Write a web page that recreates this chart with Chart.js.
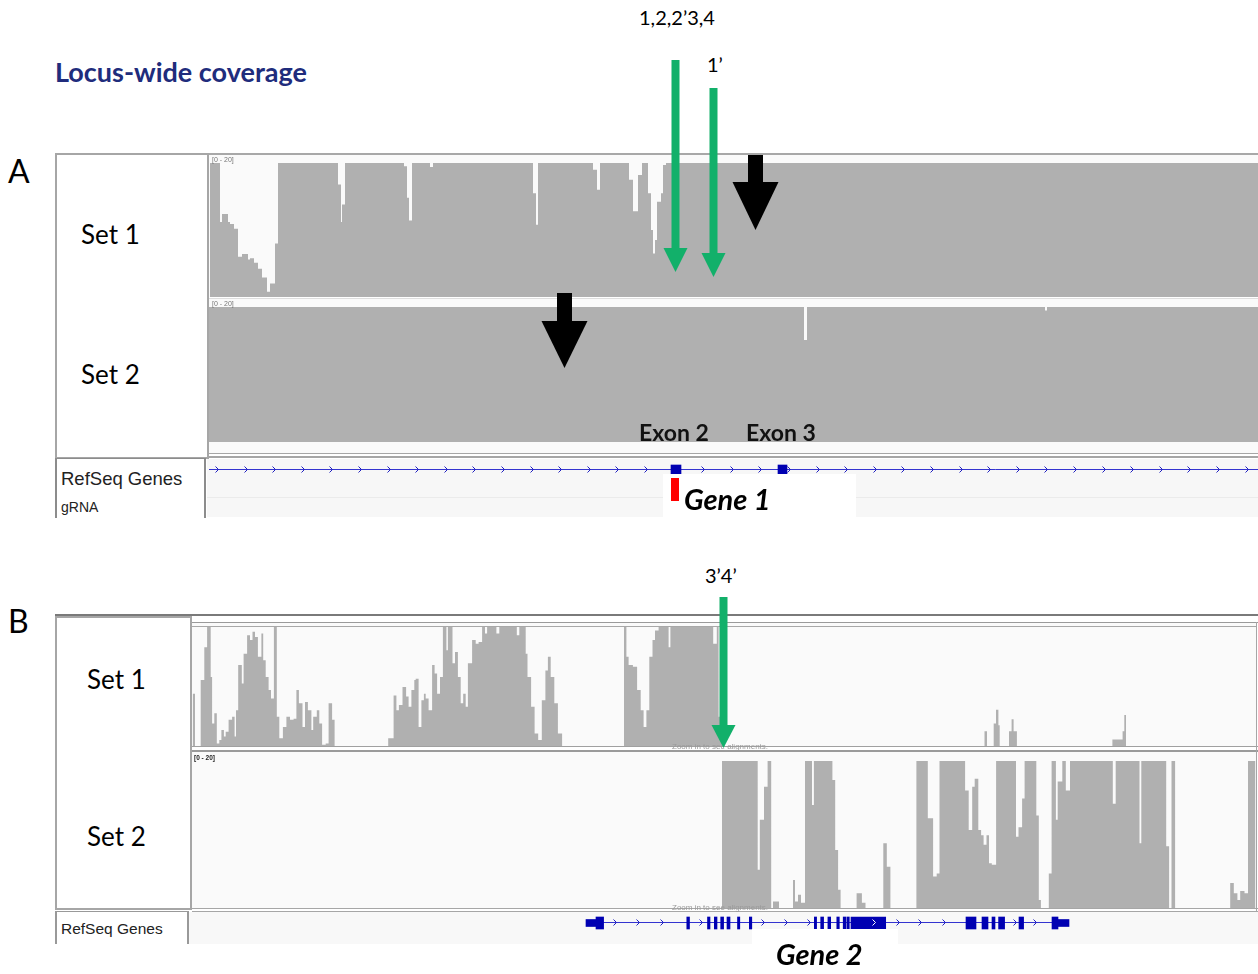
<!DOCTYPE html>
<html>
<head>
<meta charset="utf-8">
<title>Locus-wide coverage</title>
<script src="https://cdn.jsdelivr.net/npm/chart.js@4.4.1/dist/chart.umd.min.js"></script>
<style>
  body { margin: 0; width: 1258px; height: 974px; position: relative; overflow: hidden; background: #fff; font-family: Lato, sans-serif; color: #000; }
  .a { position: absolute; }
  .t { position: absolute; white-space: nowrap; z-index: 3; }
  .igv { font-family: "Liberation Sans", Arial, sans-serif; }
  .trk { position: absolute; background: #fafafa; }
  .ln { position: absolute; background: #a6a6a6; }
  .box { position: absolute; box-sizing: border-box; border: 2px solid #a6a6a6; background: #fff; }
  .plot { position: absolute; z-index: 2; }
  .cover { position: absolute; background: #fff; z-index: 3; }
  #overlay { position: absolute; left: 0; top: 0; z-index: 5; pointer-events: none; }
</style>
</head>
<body>

<!-- panel A frame -->
<div class="ln" style="left:207px;top:153px;width:1051px;height:2px;background:#a8a8a8"></div>
<div class="trk" style="left:209px;top:155px;width:1049px;height:142px"></div>
<div class="ln" style="left:209px;top:298px;width:1049px;height:1px;background:#dedede"></div>
<div class="trk" style="left:209px;top:299px;width:1049px;height:154px"></div>
<div class="ln" style="left:207px;top:453px;width:1051px;height:1px"></div>
<div class="ln" style="left:207px;top:456px;width:1051px;height:2px"></div>
<div class="box" style="left:55px;top:153px;width:154px;height:306px"></div>
<div class="a" style="left:207px;top:459px;width:1051px;height:58px;background:#f7f7f7"></div>
<div class="ln" style="left:207px;top:497px;width:1051px;height:1px;background:#ebebeb"></div>
<div class="box" style="left:55px;top:458px;width:151px;height:60px;border-width:1px 2px 0 2px;border-color:#8c8c8c"></div>

<div class="plot" style="left:209px;top:163px"><canvas id="covA1" width="1049" height="134"></canvas></div>
<div class="plot" style="left:209px;top:307px"><canvas id="covA2" width="1049" height="135"></canvas></div>
<div class="plot" style="left:209px;top:460px"><canvas id="geneA" width="1049" height="20"></canvas></div>
<div class="cover" style="left:663px;top:474px;width:193px;height:44px"></div>

<!-- panel B frame -->
<div class="ln" style="left:55px;top:614px;width:1203px;height:2px;background:#7a7a7a"></div>
<div class="ln" style="left:192px;top:622px;width:1066px;height:1px;background:#9a9a9a"></div>
<div class="trk" style="left:192px;top:623px;width:1064px;height:123px"></div>
<div class="ln" style="left:192px;top:626px;width:1064px;height:1px;background:#a8a8a8"></div>
<div class="ln" style="left:192px;top:746px;width:1066px;height:1px;background:#a0a0a0"></div>
<div class="ln" style="left:192px;top:750px;width:1066px;height:2px;background:#9a9a9a"></div>
<div class="trk" style="left:192px;top:752px;width:1064px;height:156px"></div>
<div class="ln" style="left:192px;top:908px;width:1066px;height:1px"></div>
<div class="ln" style="left:192px;top:911px;width:1066px;height:1px"></div>
<div class="ln" style="left:1256px;top:622px;width:1px;height:290px"></div>
<div class="box" style="left:55px;top:616px;width:137px;height:294px"></div>
<div class="a" style="left:189px;top:912px;width:1069px;height:32px;background:#f8f8f8"></div>
<div class="box" style="left:55px;top:911px;width:134px;height:33px;border-width:1px 2px 0 2px;border-color:#999"></div>

<div class="plot" style="left:192px;top:627px"><canvas id="covB1" width="1064" height="119"></canvas></div>
<div class="plot" style="left:192px;top:761px"><canvas id="covB2" width="1064" height="147"></canvas></div>
<div class="plot" style="left:192px;top:912px"><canvas id="geneB" width="1064" height="22"></canvas></div>
<div class="cover" style="left:752px;top:929px;width:146px;height:45px"></div>

<!-- text -->
<div class="t" style="left:8px;top:155px;font-size:32px;line-height:32px">A</div>
<div class="t" style="left:8px;top:605px;font-size:32px;line-height:32px">B</div>
<div class="t" style="left:55px;top:58px;font-size:27px;line-height:27px;font-weight:700;color:#202c7c">Locus-wide coverage</div>
<div class="t" style="left:639px;top:7px;font-size:20px;line-height:20px">1,2,2’3,4</div>
<div class="t" style="left:707px;top:54px;font-size:20px;line-height:20px">1’</div>
<div class="t" style="left:705px;top:565px;font-size:20px;line-height:20px">3’4’</div>

<div class="t" style="left:81px;top:221px;font-size:26px;line-height:26px">Set 1</div>
<div class="t" style="left:81px;top:361px;font-size:26px;line-height:26px">Set 2</div>
<div class="t" style="left:87px;top:666px;font-size:26px;line-height:26px">Set 1</div>
<div class="t" style="left:87px;top:823px;font-size:26px;line-height:26px">Set 2</div>

<div class="t igv" style="left:61px;top:469px;font-size:18.5px;line-height:19px;color:#222">RefSeq Genes</div>
<div class="t igv" style="left:61px;top:500px;font-size:14px;line-height:14px;color:#222">gRNA</div>
<div class="t igv" style="left:61px;top:921px;font-size:15.5px;line-height:16px;color:#222">RefSeq Genes</div>

<div class="t igv" style="left:212px;top:156px;font-size:7px;line-height:8px;color:#777">[0 - 20]</div>
<div class="t igv" style="left:212px;top:300px;font-size:7px;line-height:8px;color:#777">[0 - 20]</div>
<div class="t igv" style="left:194px;top:754px;font-size:6.5px;line-height:8px;font-weight:700;color:#222">[0 - 20]</div>
<div class="t igv" style="left:672px;top:742px;font-size:8px;line-height:9px;color:#9a9a9a">Zoom in to see alignments.</div>
<div class="t igv" style="left:672px;top:903px;font-size:8px;line-height:9px;color:#9a9a9a">Zoom in to see alignments.</div>

<div class="t" style="left:639px;top:421px;font-size:23px;line-height:23px;font-weight:700;color:#111">Exon 2</div>
<div class="t" style="left:746px;top:421px;font-size:23px;line-height:23px;font-weight:700;color:#111">Exon 3</div>
<div class="t" style="left:684px;top:484px;font-size:29px;line-height:29px;font-weight:700;font-style:italic">Gene 1</div>
<div class="t" style="left:776px;top:939px;font-size:29px;line-height:29px;font-weight:700;font-style:italic">Gene 2</div>

<canvas id="overlay" width="1258" height="974"></canvas>

<script>
// coverage tracks: step start (bin along the locus view) and depth, clipped to the [0 - 20] range
var covA1Pos = [0, 1, 11, 13, 19, 21, 25, 29, 33, 39, 41, 45, 49, 53, 58, 61, 66, 69, 129, 132, 133, 136,
  195, 198, 200, 203, 221, 224, 324, 327, 329, 384, 388, 391, 420, 424, 429, 433, 439, 442, 444, 446, 448,
  452, 454, 457, 1049];
var covA1Val = [0, 20, 11.2, 12.4, 11.2, 10.9, 10.2, 6, 6.4, 5.6, 5.8, 5.1, 4.2, 2.9, 0.8, 2, 8, 20, 16.8, 11.2, 13.8, 20,
  19.5, 14.8, 11.4, 20, 19.4, 20, 15.5, 10.8, 20, 19, 16, 20, 17.5, 12.8, 18.2, 20, 15.5, 10, 6.5, 8.5, 14.2,
  15.5, 19.7, 20, 20];

var covA2Pos = [0, 595, 598, 836, 838, 1049];
var covA2Val = [20, 15.1, 20, 19.5, 20, 20];

var covB1Pos = [0, 0.9, 3, 8.7, 12.3, 15.1, 18.7, 20.1, 22.3, 24.8, 27.3, 29.4, 31.9, 33.7, 36.6, 40.1, 42.6, 44,
  46.2, 49.8, 51.6, 55.1, 58, 60.5, 63, 65.9, 69.4, 71.2, 73.7, 76.6, 79, 81.9, 84.8, 87.3, 90.9, 94.4, 98,
  101.6, 104.4, 106.9, 110.5, 113, 115.9, 119.4, 121.2, 124.8, 127.3, 130.1, 133.7, 136.6, 140.1, 142.6,
  196.2, 201.6, 204.4, 206.9, 210.5, 214.1, 216.6, 219.4, 222.3, 223.7, 226.6, 229.4, 231.9, 233.7, 236.6,
  240.1, 242.6, 245.1, 248, 250.9, 254.4, 255.9, 260.5, 263, 265.9, 268.7, 271.2, 273.7, 275.9, 280.1,
  283.7, 286.6, 290.1, 293, 295.1, 304.4, 307.3, 324.8, 327.3, 333.7, 335.5, 339.1, 342.6, 346.2, 349.8,
  353.4, 355.9, 358.7, 362.3, 365.9, 370.1,
  432, 434.4, 436.6, 440.9, 445.1, 448.7, 451.6, 454.4, 457.3, 460.5, 463, 466.6, 476.6, 478.4, 521.2,
  524.8, 526.6, 530.1,
  792.5, 795, 801.7, 804, 806.4, 807.7, 817, 819.6, 821.6, 824.9, 920.4, 930.6, 932.3, 934, 1064];
var covB1Val = [0, 8.8, 0, 11.1, 16.6, 20, 11.6, 3.8, 5.5, 0.4, 1, 2.7, 1.6, 2.4, 4.4, 4.9, 1.6, 6,
  13.6, 10.5, 15.5, 18.6, 17.8, 19.2, 18.3, 15, 18.9, 14.4, 11.6, 9.4, 8, 20, 4.9, 1.3, 3.2, 4.9, 4.4,
  4.6, 9.4, 7.2, 3.2, 7.4, 6, 2.7, 4.9, 6, 3.8, 0.2, 0.4, 7.2, 4.4, 0,
  1.3, 8.5, 6, 6.9, 9.9, 8.3, 6.6, 9.4, 11.1, 11.3, 3.2, 7.7, 8.8, 8, 6,
  13.6, 12.2, 8.8, 11.6, 20, 16.1, 20, 13.9, 15.8, 11.6, 7.2, 8.8, 6.6, 13.9, 17.8,
  17.2, 17.5, 20, 18.9, 20, 18.9, 20, 18.6, 20, 15.5, 11.6, 6.6, 2.1, 1, 7.7,
  12.7, 15, 11.6, 7.2, 2.1, 0,
  20, 15, 13.6, 13.3, 9.4, 6, 3.2, 6, 15, 17.8, 19.4, 20, 16.6, 20, 17.2,
  20, 4.9, 0,
  2.5, 0, 3.8, 6.1, 3.5, 0, 2.5, 4.5, 2.5, 0, 1.1, 2.5, 5.2, 0, 0];

var covB2Pos = [0, 530, 565.7, 567.8, 572, 575.6, 579.2, 581, 587, 601, 603, 606, 609, 613, 620, 621.9,
  640.4, 643.2, 646.1, 648.6, 664.6, 669.9, 673.5, 691.3, 694.8, 698.4, 724.4, 735.8, 741.1, 744.7, 747.5,
  773.1, 776.7, 780.2, 782.7, 786.3, 789.1, 791.6, 794.5, 797, 799.8, 804.1, 824, 826.5, 830.1, 832.6,
  844.3, 846.8, 848.9, 856.8, 859.6, 863.9, 865.7, 870.3, 873.8, 878, 920.8, 923.7, 947.5, 949.3, 974.2,
  977.1, 979.5, 983.1, 1038.2, 1041.8, 1045.4, 1048.2, 1052.5, 1056, 1063.2, 1064];
var covB2Val = [0, 20, 5.2, 12, 16.5, 20, 0, 0.9, 0, 3.8, 0.9, 1.8, 0.7, 20, 14, 20,
  17.4, 7.9, 2.5, 0, 2, 0.7, 0, 8.8, 5.6, 0, 20, 12.2, 4.3, 4.7, 20,
  16, 10.6, 16.5, 17.6, 10.6, 9.9, 8.6, 9.9, 6.1, 5.9, 20, 9.7, 11, 14.9, 20,
  12.6, 1.1, 0, 4.7, 20, 12, 17.2, 20, 16, 20, 14.2, 20, 8.8, 20, 8.4,
  0, 20, 0, 3.4, 2, 1.1, 2.3, 2, 20, 0, 0];

// RefSeq features, [start, end] in bins
var geneAExons = [[462, 472], [569, 578]];
var geneASpan = [0, 1049];
var geneBExons = [[404, 411.6], [494.8, 497.5], [515.5, 518], [522.3, 525], [528.7, 531.6], [535, 538],
  [545.5, 547.8], [557.3, 559.8], [622.3, 624.6], [628.7, 631.6], [635.9, 638.7], [644.8, 647.3],
  [651.2, 653.7], [654.8, 657.3], [659, 693.7], [774, 784], [790, 796], [800, 803], [806.6, 812.6],
  [827, 831.6], [860, 866]];
var geneBUtrs = [[394, 404], [866, 877]];
var geneBSpan = [394, 877];
var geneBChevrons = [423, 446, 470, 509, 571, 594, 617, 681.6, 705.5, 728, 752, 823, 843];

// annotations
var gRNAA = [462, 470];
var greenCutsA = [466.5, 504.5];
var blackMarksA = [546.5, 355.5];
var greenCutsB = [531.5];

var GREY = '#b0b0b0';
var BLUE = '#0000b2';

function coverage(id, pos, val, xMax) {
  return new Chart(document.getElementById(id), {
    type: 'line',
    data: {
      datasets: [{
        data: pos.map(function (p, i) { return { x: p, y: val[i] }; }),
        stepped: true,
        fill: 'origin',
        backgroundColor: GREY,
        borderColor: GREY,
        borderWidth: 0,
        pointRadius: 0
      }]
    },
    options: {
      responsive: false,
      animation: false,
      devicePixelRatio: 1,
      events: [],
      layout: { padding: 0 },
      plugins: { legend: { display: false }, tooltip: { enabled: false } },
      scales: {
        x: { type: 'linear', min: 0, max: xMax, display: false },
        y: { min: 0, max: 20, display: false }
      }
    }
  });
}

function geneLine(span, chevrons, exons) {
  return {
    id: 'geneLine',
    beforeDatasetsDraw: function (chart) {
      var ctx = chart.ctx, xs = chart.scales.x;
      var y = Math.round(chart.scales.y.getPixelForValue(0)) - 0.5;
      ctx.save();
      ctx.strokeStyle = '#3434d0';
      ctx.lineWidth = 1;
      ctx.beginPath();
      ctx.moveTo(xs.getPixelForValue(span[0]), y);
      ctx.lineTo(xs.getPixelForValue(span[1]), y);
      ctx.stroke();
      ctx.restore();
    },
    afterDatasetsDraw: function (chart) {
      var ctx = chart.ctx, xs = chart.scales.x;
      var y = Math.round(chart.scales.y.getPixelForValue(0)) - 0.5;
      ctx.save();
      ctx.lineWidth = 1;
      chevrons.forEach(function (c) {
        var x = Math.round(xs.getPixelForValue(c)) + 0.5;
        var hit = exons.filter(function (e) { return c > e[0] - 2 && c < e[1] + 2; })[0];
        // small exons hide the mark, long blocks show it in white
        if (hit && hit[1] - hit[0] < 20) return;
        ctx.strokeStyle = hit ? '#ffffff' : '#2020c0';
        ctx.beginPath();
        ctx.moveTo(x - 2, y - 3);
        ctx.lineTo(x + 1, y);
        ctx.lineTo(x - 2, y + 3);
        ctx.stroke();
      });
      ctx.restore();
    }
  };
}

function geneTrack(id, exons, utrs, span, chevrons, xMax, thick, thin) {
  var sets = [{ data: exons, barThickness: thick }];
  if (utrs.length) sets.push({ data: utrs, barThickness: thin });
  sets.forEach(function (d) {
    d.data = d.data.map(function (e) { return { x: e, y: 'gene' }; });
    d.backgroundColor = BLUE;
    d.borderWidth = 0;
    d.grouped = false;
  });
  return new Chart(document.getElementById(id), {
    type: 'bar',
    data: { labels: ['gene'], datasets: sets },
    options: {
      indexAxis: 'y',
      responsive: false,
      animation: false,
      devicePixelRatio: 1,
      events: [],
      layout: { padding: 0 },
      plugins: { legend: { display: false }, tooltip: { enabled: false } },
      scales: {
        x: { type: 'linear', min: 0, max: xMax, display: false },
        y: { display: false }
      }
    },
    plugins: [geneLine(span, chevrons, exons)]
  });
}

var chartA1 = coverage('covA1', covA1Pos, covA1Val, 1049);
var chartA2 = coverage('covA2', covA2Pos, covA2Val, 1049);
var chartB1 = coverage('covB1', covB1Pos, covB1Val, 1064);
var chartB2 = coverage('covB2', covB2Pos, covB2Val, 1064);

// panel A strand marks sit at a fixed spacing along the whole view
var chevA = [];
for (var c = 8; c < 1049; c += 28.6) chevA.push(c);
var geneChartA = geneTrack('geneA', geneAExons, [], geneASpan, chevA, 1049, 10, 6);
var geneChartB = geneTrack('geneB', geneBExons, geneBUtrs, geneBSpan, geneBChevrons, 1064, 12, 7);

// arrows and gRNA mark, placed through the track x scales
var ov = document.getElementById('overlay').getContext('2d');
function px(chart, v) {
  return chart.canvas.parentNode.offsetLeft + chart.scales.x.getPixelForValue(v);
}
function arrow(cx, top, headY, tipY, shaftW, headW, color) {
  ov.fillStyle = color;
  ov.fillRect(cx - shaftW / 2, top, shaftW, headY - top + 1);
  ov.beginPath();
  ov.moveTo(cx - headW / 2, headY);
  ov.lineTo(cx + headW / 2, headY);
  ov.lineTo(cx, tipY);
  ov.closePath();
  ov.fill();
}
var GREEN = '#12b06a';
arrow(px(chartA1, greenCutsA[0]), 60, 248, 272, 8, 24, GREEN);
arrow(px(chartA1, greenCutsA[1]), 88, 253, 277, 8, 24, GREEN);
arrow(px(chartA1, blackMarksA[0]), 155, 182, 230, 15, 46, '#000');
arrow(px(chartA2, blackMarksA[1]), 293, 321, 368, 15, 46, '#000');
arrow(px(chartB1, greenCutsB[0]), 597, 725, 748, 8, 24, GREEN);

var g0 = px(geneChartA, gRNAA[0]), g1 = px(geneChartA, gRNAA[1]);
ov.fillStyle = '#ff0000';
ov.fillRect(g0, 478, g1 - g0, 23);
</script>
</body>
</html>
